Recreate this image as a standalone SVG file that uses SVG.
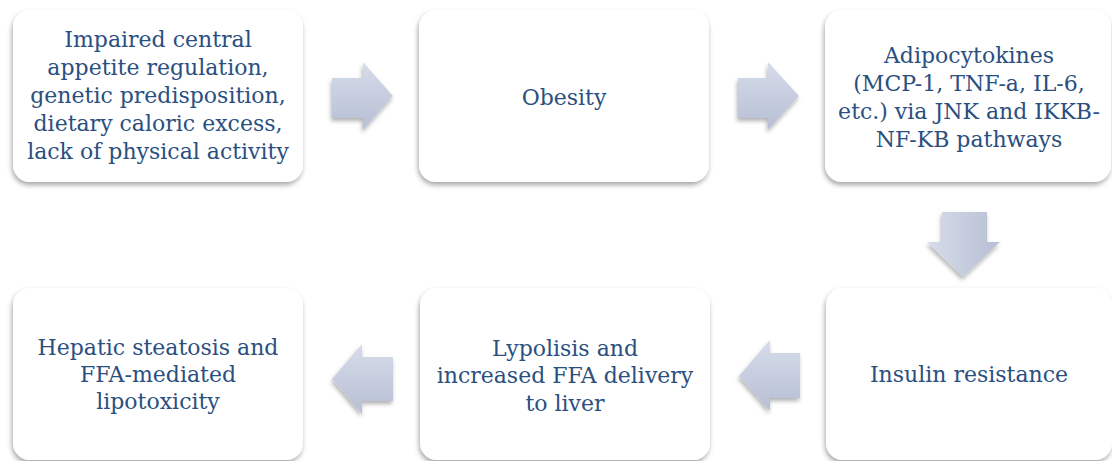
<svg xmlns="http://www.w3.org/2000/svg" width="1112" height="461" viewBox="0 0 1112 461">
<style>
.box{fill:#ffffff;filter:url(#sh);}
.t{font-family:"DejaVu Serif","Liberation Serif",serif;font-size:22px;fill:#2a4f80;text-anchor:middle;}
.arr{filter:url(#ash);}
</style>
<defs>
<filter id="sh" x="-10%" y="-10%" width="120%" height="125%">
<feDropShadow dx="-1" dy="3" stdDeviation="2.5" flood-color="#000" flood-opacity="0.35"/>
</filter>
<filter id="ash" x="-20%" y="-20%" width="140%" height="140%">
<feDropShadow dx="-1" dy="3" stdDeviation="2" flood-color="#000" flood-opacity="0.3"/>
</filter>
<linearGradient id="gv" x1="0" y1="0" x2="0" y2="1">
<stop offset="0" stop-color="#d6dcea"/>
<stop offset="1" stop-color="#b7bfd4"/>
</linearGradient>
<linearGradient id="gh" x1="0" y1="0" x2="1" y2="0">
<stop offset="0" stop-color="#d6dcea"/>
<stop offset="1" stop-color="#b7bfd4"/>
</linearGradient>
</defs>
<rect width="1112" height="461" fill="#ffffff"/>
<g id="connectors">
<polygon class="arr" fill="url(#gv)" points="332,78 363,78 363,62 393,96 363,130 363,118 332,118"/>
<polygon class="arr" fill="url(#gv)" points="738,78 768,78 768,62 799,96 768,130 768,118 738,118"/>
<polygon class="arr" fill="url(#gh)" points="942,212 987,212 987,242 1000,242 963,277 927,242 942,242"/>
<polygon class="arr" fill="url(#gv)" points="800,353 770,353 770,340 739,376 770,411 770,398 800,398"/>
<polygon class="arr" fill="url(#gv)" points="393,357 362,357 362,344 332,379 362,414 362,401 393,401"/>
</g>
<g id="n1">
<rect class="box" x="13" y="10" width="290" height="172" rx="17"/>
<text class="t" x="158" y="47">Impaired central</text>
<text class="t" x="158" y="75">appetite regulation,</text>
<text class="t" x="158" y="103">genetic predisposition,</text>
<text class="t" x="158" y="131">dietary caloric excess,</text>
<text class="t" x="158" y="159">lack of physical activity</text>
</g>
<g id="n2">
<rect class="box" x="419" y="10" width="290" height="172" rx="17"/>
<text class="t" x="564" y="105">Obesity</text>
</g>
<g id="n3">
<rect class="box" x="825" y="10" width="286" height="172" rx="17"/>
<text class="t" x="969" y="63">Adipocytokines</text>
<text class="t" x="969" y="91"> (MCP-1, TNF-a, IL-6,</text>
<text class="t" x="969" y="119">etc.) via JNK and IKKB-</text>
<text class="t" x="969" y="147">NF-KB pathways</text>
</g>
<g id="n4">
<rect class="box" x="826" y="288" width="286" height="172" rx="17"/>
<text class="t" x="969" y="382">Insulin resistance</text>
</g>
<g id="n5">
<rect class="box" x="420" y="288" width="290" height="172" rx="17"/>
<text class="t" x="565" y="356">Lypolisis and</text>
<text class="t" x="565" y="383">increased FFA delivery</text>
<text class="t" x="565" y="411">to liver</text>
</g>
<g id="n6">
<rect class="box" x="13" y="288" width="290" height="172" rx="17"/>
<text class="t" x="158" y="355">Hepatic steatosis and</text>
<text class="t" x="158" y="382">FFA-mediated</text>
<text class="t" x="158" y="409">lipotoxicity</text>
</g>
</svg>
